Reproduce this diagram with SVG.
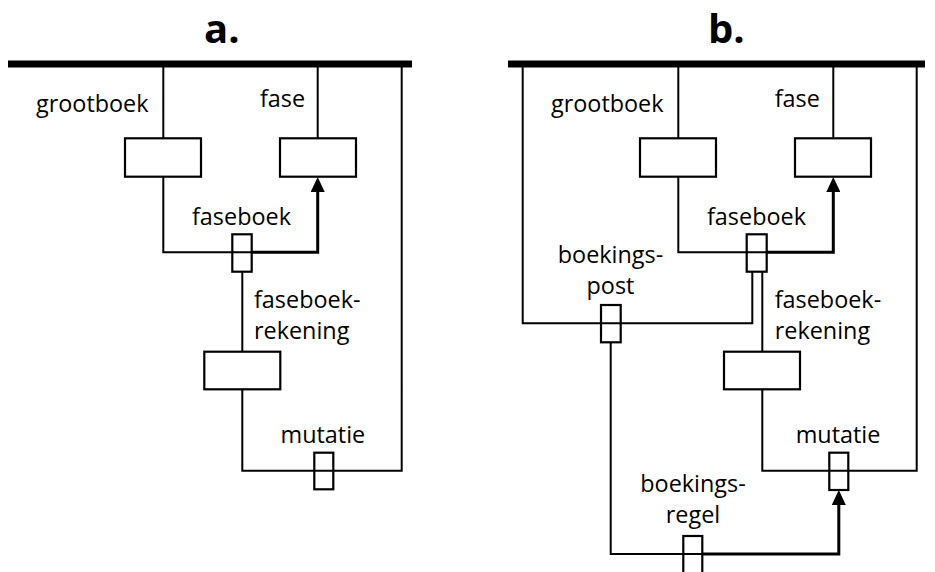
<svg xmlns="http://www.w3.org/2000/svg" width="935" height="572" viewBox="0 0 935 572">
<style>
  .bg{fill:#fff}
  .bar{fill:#000}
  .ent{fill:none;stroke:#000;stroke-width:2.2}
  .rel{fill:none;stroke:#000;stroke-width:2.2}
  .ln{fill:none;stroke:#000;stroke-width:2}
  .thick{fill:none;stroke:#000;stroke-width:3}
  .lbl{font-family:"Open Sans","Liberation Sans",sans-serif;font-size:23.4px;fill:#000}
  .ttl{font-family:"Open Sans","Liberation Sans",sans-serif;font-size:40px;font-weight:bold;fill:#000}
  .mid{text-anchor:middle}
</style>
<defs>
  <marker id="arr" viewBox="0 0 15 14" refX="6" refY="7" markerWidth="15" markerHeight="14" markerUnits="userSpaceOnUse" orient="auto">
    <path d="M0,0 L15,7 L0,14 z" fill="#000"/>
  </marker>
</defs>
<rect class="bg" x="0" y="0" width="935" height="572"/>

<!-- connectors -->
<g id="connectors">
  <!-- panel a -->
  <path class="ln" d="M163.3,67 V138.3"/>
  <path class="ln" d="M317.7,67 V138.3"/>
  <path class="ln" d="M163.3,176.7 V252.3 H251.7"/>
  <path class="thick" d="M251.7,252.3 H317.7 V186" marker-end="url(#arr)"/>
  <path class="ln" d="M242.3,271.7 V351.7"/>
  <path class="ln" d="M242.3,389.3 V470.7 H401.7 V67"/>
  <!-- panel b -->
  <path class="ln" d="M678.3,67 V138.3"/>
  <path class="ln" d="M833.3,67 V138.3"/>
  <path class="ln" d="M678.3,176.7 V252.3 H766.7"/>
  <path class="thick" d="M766.7,252.3 H833.3 V186" marker-end="url(#arr)"/>
  <path class="ln" d="M522.7,67 V323.3 H752.3 V271.7"/>
  <path class="ln" d="M762.3,271.7 V351.7"/>
  <path class="ln" d="M762.3,389.3 V470.7 H916.7 V67"/>
  <path class="ln" d="M610.7,342.3 V554 H702.3"/>
  <path class="thick" d="M702.3,554 H838.8 V499" marker-end="url(#arr)"/>
</g>

<!-- panel a -->
<g id="title-a"><text class="ttl" x="204" y="43">a.</text></g>
<g id="bar-a"><rect class="bar" x="8" y="60.5" width="404" height="7"/></g>
<g id="grootboek-a">
  <rect class="ent" x="125" y="138.3" width="76" height="38.4"/>
  <text class="lbl" x="36" y="112">grootboek</text>
</g>
<g id="fase-a">
  <rect class="ent" x="280" y="138.3" width="76" height="38.4"/>
  <text class="lbl" x="260" y="106.5">fase</text>
</g>
<g id="faseboek-a">
  <rect class="rel" x="232.3" y="234.3" width="19.4" height="37.4"/>
  <text class="lbl" x="192" y="225">faseboek</text>
</g>
<g id="faseboekrekening-a">
  <rect class="ent" x="204.3" y="351.7" width="76" height="37.6"/>
  <text class="lbl" x="254" y="308">faseboek-</text>
  <text class="lbl" x="254" y="339">rekening</text>
</g>
<g id="mutatie-a">
  <rect class="rel" x="314.3" y="452.7" width="19" height="36.6"/>
  <text class="lbl" x="280.5" y="442.5">mutatie</text>
</g>

<!-- panel b -->
<g id="title-b"><text class="ttl" x="708" y="43">b.</text></g>
<g id="bar-b"><rect class="bar" x="508" y="60.5" width="417" height="7"/></g>
<g id="grootboek-b">
  <rect class="ent" x="640" y="138.3" width="76" height="38.4"/>
  <text class="lbl" x="551" y="112">grootboek</text>
</g>
<g id="fase-b">
  <rect class="ent" x="795" y="138.3" width="76" height="38.4"/>
  <text class="lbl" x="774.7" y="106.5">fase</text>
</g>
<g id="faseboek-b">
  <rect class="rel" x="746.7" y="234.3" width="20" height="37.4"/>
  <text class="lbl" x="707" y="225">faseboek</text>
</g>
<g id="boekingspost-b">
  <rect class="rel" x="601" y="305" width="19.7" height="37.3"/>
  <text class="lbl mid" x="610.5" y="262.5">boekings-</text>
  <text class="lbl mid" x="610.5" y="293.5">post</text>
</g>
<g id="faseboekrekening-b">
  <rect class="ent" x="724" y="351.7" width="76" height="37.6"/>
  <text class="lbl" x="774.7" y="308.3">faseboek-</text>
  <text class="lbl" x="774.7" y="339">rekening</text>
</g>
<g id="mutatie-b">
  <rect class="rel" x="829.3" y="452.7" width="19" height="37.3"/>
  <text class="lbl" x="795.7" y="442.5">mutatie</text>
</g>
<g id="boekingsregel-b">
  <rect class="rel" x="683.3" y="536" width="19" height="37.5"/>
  <text class="lbl mid" x="693" y="491.7">boekings-</text>
  <text class="lbl mid" x="693" y="523">regel</text>
</g>
</svg>
